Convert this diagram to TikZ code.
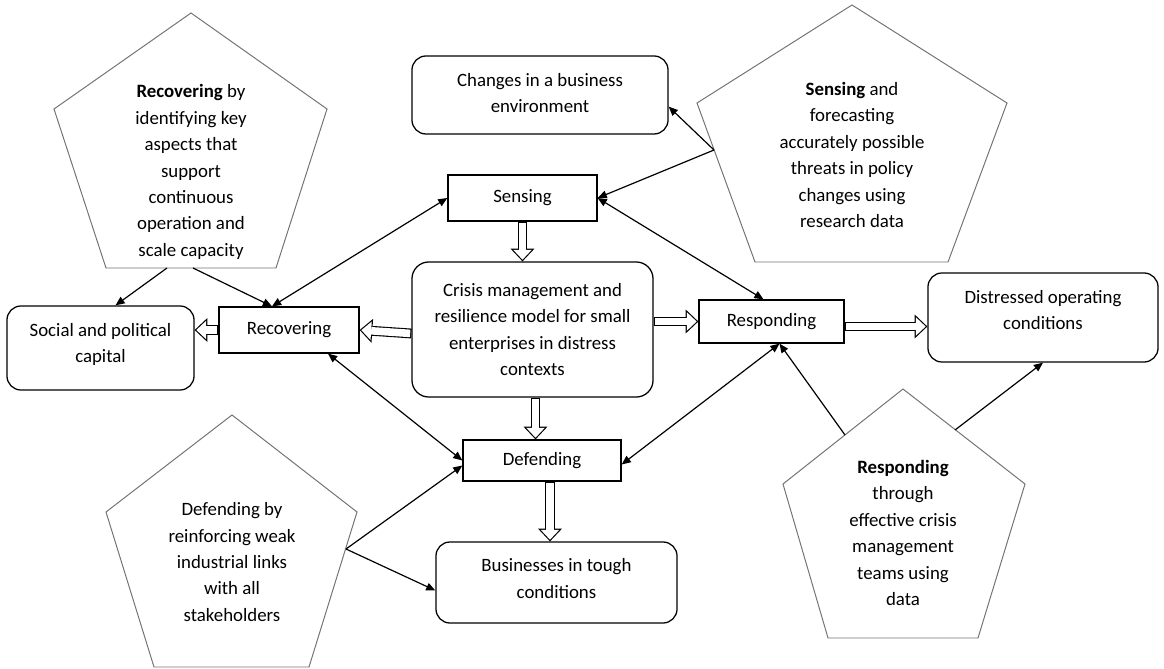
\documentclass[tikz,border=0pt]{standalone}
\usepackage{fontspec}
\setmainfont{Carlito}
\usetikzlibrary{arrows.meta, calc, positioning}

\tikzset{
  box/.style={draw, line width=0.9pt, rounded corners=0.35cm, align=center, inner sep=2pt},
  rect/.style={draw, line width=0.9pt, align=center, inner sep=2pt},
  pent/.style={draw=black!55, line width=0.7pt, line join=miter},
  pentext/.style={align=center, inner sep=0pt},
  conn/.style={line width=0.85pt, -{Triangle[length=6.5pt,width=5.5pt]}},
  biconn/.style={line width=0.85pt, {Triangle[length=6.5pt,width=5.5pt]}-{Triangle[length=6.5pt,width=5.5pt]}},
  hollow/.style={line width=7pt, -{Triangle[length=9pt,width=17pt,line width=0pt]},
    postaction={draw=white, line width=5.4pt, shorten <=0.8pt, shorten >=1.2pt,
      -{Triangle[length=7pt,width=13.2pt,line width=0pt]}}}
}

\begin{document}
\begin{tikzpicture}[x=0.025cm, y=-0.025cm, font=\fontsize{13.4}{18.8}\selectfont]
    \useasboundingbox (0,0) rectangle (1164,669);

    % boxes
    \node[box, minimum width=6.4cm, minimum height=1.95cm, text depth=3pt] (changes) at (540,95) {Changes in a business\\environment};
    \node[rect, minimum width=3.725cm, minimum height=1.15cm] (sens) at (522.5,198) {Sensing};
    \node[box, rounded corners=0.42cm, minimum width=6.025cm, minimum height=3.375cm] (central) at (532.5,329.5)
      {Crisis management and\\resilience model for small\\enterprises in distress\\contexts};
    \node[rect, minimum width=3.625cm, minimum height=1.075cm] (resp) at (771.5,321.5) {Responding};
    \node[box, minimum width=5.75cm, minimum height=2.225cm, text depth=11pt] (distr) at (1043,317.5) {Distressed operating\\conditions};
    \node[box, minimum width=4.675cm, minimum height=2.1cm, text depth=7pt] (social) at (100.5,348) {Social and political\\capital};
    \node[rect, minimum width=3.5cm, minimum height=1.15cm] (recov) at (289,330) {Recovering};
    \node[rect, minimum width=3.95cm, minimum height=1.025cm] (defend) at (542,460.5) {Defending};
    \node[box, minimum width=6.025cm, minimum height=2.025cm, text depth=6pt] (bus) at (556.5,582.5) {Businesses in tough\\conditions};

    % pentagons
    \draw[pent] (191,13) -- (327,109) -- (276,268) -- (106,268) -- (54,109) -- cycle;
    \node[pentext] (recovtext) at (191,172) {\textbf{Recovering} by\\identifying key\\aspects that\\support\\continuous\\operation and\\scale capacity};
    \draw[pent] (852,5) -- (1007,103) -- (948,262) -- (755,262) -- (697,103) -- cycle;
    \node[pentext] (senstext) at (852,155) {\textbf{Sensing} and\\forecasting\\accurately possible\\threats in policy\\changes using\\research data};
    \draw[pent] (232,415) -- (357,512) -- (309,667) -- (154,667) -- (106,512) -- cycle;
    \node[pentext] (defendtext) at (232,562) {Defending by\\reinforcing weak\\industrial links\\with all\\stakeholders};
    \draw[pent] (903,389) -- (1025,484) -- (978,638) -- (828,638) -- (783,484) -- cycle;
    \node[pentext] (resptext) at (903,533) {\textbf{Responding}\\through\\effective crisis\\management\\teams using\\data};

    \coordinate (p1a) at (167,268);
    \coordinate (p1b) at (193,268);
    \coordinate (p2a) at (714,150);
    \coordinate (p3a) at (346,549);
    \coordinate (p4a) at (845,435);
    \coordinate (p4b) at (955,430);

    % thin connectors
    \draw[conn] (p1a) -- ($(social.north)+(15,0)$);
    \draw[conn] (p1b) -- ($(recov.north)+(-17,0)$);
    \draw[biconn] ($(recov.north)+(-17,0)$) -- (sens.west);
    \draw[conn] (p2a) -- ($(changes.south east)+(0,-28)$);
    \draw[conn] (p2a) -- (sens.east);
    \draw[biconn] (sens.east) -- ($(resp.north)+(-8,0)$);
    \draw[biconn] ($(recov.south)+(39,0)$) -- (defend.west);
    \draw[conn] (p3a) -- ($(defend.west)+(0,5)$);
    \draw[conn] (p3a) -- ($(bus.west)+(0,8)$);
    \draw[biconn] ($(resp.south)+(8,0)$) -- ($(defend.east)+(0,4)$);
    \draw[conn] (p4a) -- ($(resp.south)+(8,0)$);
    \draw[conn] (p4b) -- (distr.south);

    % hollow arrows
    \coordinate (cd) at ($(central.south)+(3,0)$);
    \coordinate (db) at ($(defend.south)+(8,0)$);
    \coordinate (rd) at ($(resp.east)+(0,5)$);
    \draw[hollow] (sens.south) -- (sens.south |- central.north);
    \draw[hollow] (cd) -- (cd |- defend.north);
    \draw[hollow] (db) -- (db |- bus.north);
    \draw[hollow] (central.east |- resp.west) -- (resp.west);
    \draw[hollow] (rd) -- (rd -| distr.west);
    \draw[hollow] ($(central.west)+(0,4)$) -- (recov.east);
    \draw[hollow] (recov.west) -- (recov.west -| social.east);
\end{tikzpicture}
\end{document}
